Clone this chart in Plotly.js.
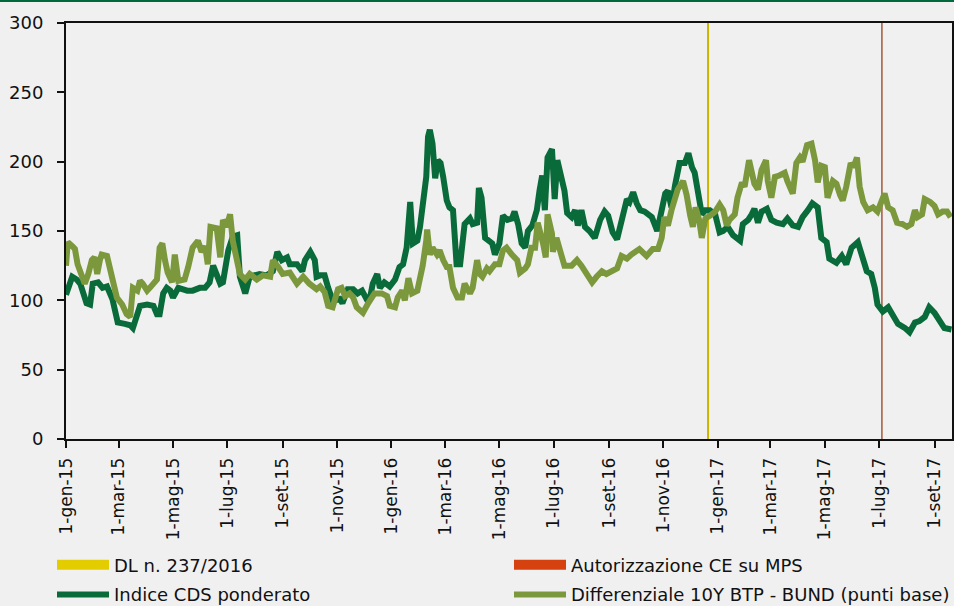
<!DOCTYPE html>
<html>
<head>
<meta charset="utf-8">
<script src="https://cdn.plot.ly/plotly-3.0.1.min.js"></script>
<style>
  html, body { margin: 0; padding: 0; background: #f0f0f0; }
  #wrap { position: relative; width: 954px; height: 606px; overflow: hidden; }
  #topline { position: absolute; left: 0; top: 0; width: 954px; height: 2px; background: #006a3c; z-index: 5; }
  #chart { position: absolute; left: 0; top: 0; width: 954px; height: 606px; }
</style>
</head>
<body>
<div id="wrap"><div id="topline"></div><div id="chart"></div></div>
<script>
// ---- data ----
const cdsDates = ['2015-01-01','2015-01-08','2015-01-13','2015-01-17','2015-01-24','2015-01-28','2015-01-31','2015-02-06','2015-02-11','2015-02-16','2015-02-22','2015-02-25','2015-02-28','2015-03-08','2015-03-14','2015-03-17','2015-03-22','2015-03-25','2015-04-02','2015-04-09','2015-04-13','2015-04-16','2015-04-20','2015-04-24','2015-04-28','2015-05-01','2015-05-07','2015-05-17','2015-05-23','2015-05-31','2015-06-06','2015-06-11','2015-06-15','2015-06-19','2015-06-23','2015-06-26','2015-07-02','2015-07-07','2015-07-12','2015-07-15','2015-07-21','2015-07-26','2015-08-06','2015-08-14','2015-08-21','2015-08-26','2015-08-31','2015-09-06','2015-09-09','2015-09-17','2015-09-23','2015-09-26','2015-10-02','2015-10-07','2015-10-09','2015-10-13','2015-10-18','2015-10-22','2015-10-27','2015-11-04','2015-11-07','2015-11-13','2015-11-19','2015-11-24','2015-11-29','2015-12-04','2015-12-08','2015-12-11','2015-12-16','2015-12-19','2015-12-24','2015-12-30','2016-01-05','2016-01-10','2016-01-14','2016-01-18','2016-01-22','2016-01-25','2016-01-30','2016-02-02','2016-02-05','2016-02-09','2016-02-11','2016-02-13','2016-02-16','2016-02-19','2016-02-22','2016-02-25','2016-02-28','2016-03-03','2016-03-06','2016-03-10','2016-03-14','2016-03-18','2016-03-23','2016-03-29','2016-04-01','2016-04-06','2016-04-08','2016-04-11','2016-04-15','2016-04-18','2016-04-23','2016-04-26','2016-05-01','2016-05-05','2016-05-10','2016-05-15','2016-05-18','2016-05-22','2016-05-26','2016-05-30','2016-06-02','2016-06-07','2016-06-12','2016-06-15','2016-06-18','2016-06-21','2016-06-24','2016-06-29','2016-07-02','2016-07-05','2016-07-10','2016-07-13','2016-07-16','2016-07-21','2016-07-25','2016-07-28','2016-08-01','2016-08-05','2016-08-10','2016-08-16','2016-08-22','2016-08-27','2016-08-31','2016-09-05','2016-09-10','2016-09-15','2016-09-21','2016-09-24','2016-09-28','2016-10-02','2016-10-06','2016-10-11','2016-10-19','2016-10-25','2016-10-28','2016-11-03','2016-11-06','2016-11-10','2016-11-14','2016-11-16','2016-11-19','2016-11-25','2016-11-29','2016-12-03','2016-12-06','2016-12-10','2016-12-14','2016-12-18','2016-12-23','2016-12-29','2017-01-03','2017-01-07','2017-01-12','2017-01-18','2017-01-26','2017-01-29','2017-02-04','2017-02-08','2017-02-11','2017-02-15','2017-02-19','2017-02-25','2017-03-02','2017-03-08','2017-03-15','2017-03-20','2017-03-26','2017-04-01','2017-04-06','2017-04-12','2017-04-17','2017-04-23','2017-04-27','2017-05-03','2017-05-06','2017-05-14','2017-05-20','2017-05-25','2017-05-31','2017-06-07','2017-06-11','2017-06-17','2017-06-22','2017-06-26','2017-06-29','2017-07-05','2017-07-11','2017-07-16','2017-07-22','2017-07-30','2017-08-04','2017-08-10','2017-08-15','2017-08-21','2017-08-26','2017-09-01','2017-09-07','2017-09-12','2017-09-20'];
const cdsValues = [104,117,115,112,98,97,112,113,109,110,101,90,84,83,82,80,89,96,97,96,90,90,105,109,107,102,109,107,107,109,109,113,125,119,112,113,136,146,147,117,105,117,119,118,121,135,129,131,126,126,121,129,135,129,117,118,118,109,100,101,98,108,108,105,107,101,102,112,119,109,113,110,115,124,126,138,171,141,143,153,172,189,218,223,213,188,201,199,189,172,167,165,126,126,155,159,155,156,181,174,145,143,141,133,141,161,158,159,164,155,141,138,150,154,165,179,190,165,203,209,173,201,189,179,163,160,165,154,165,153,150,145,158,164,161,149,144,158,173,171,178,170,165,164,160,150,158,177,179,167,183,191,199,199,206,196,192,177,162,165,165,162,149,150,153,147,143,155,158,162,166,156,164,166,158,156,155,159,154,153,160,165,170,167,145,142,130,127,132,126,138,142,132,121,119,109,97,92,95,90,83,80,77,84,85,88,95,91,84,80,79];

const spreadDates = ['2015-01-01','2015-01-03','2015-01-08','2015-01-11','2015-01-14','2015-01-19','2015-01-22','2015-01-26','2015-01-30','2015-02-02','2015-02-05','2015-02-08','2015-02-10','2015-02-16','2015-02-19','2015-02-23','2015-02-27','2015-03-05','2015-03-10','2015-03-14','2015-03-17','2015-03-22','2015-03-25','2015-03-28','2015-04-02','2015-04-05','2015-04-09','2015-04-13','2015-04-16','2015-04-19','2015-04-22','2015-04-25','2015-04-30','2015-05-03','2015-05-07','2015-05-14','2015-05-18','2015-05-23','2015-05-29','2015-06-02','2015-06-06','2015-06-09','2015-06-12','2015-06-19','2015-06-23','2015-06-26','2015-06-30','2015-07-04','2015-07-07','2015-07-12','2015-07-15','2015-07-21','2015-07-26','2015-08-03','2015-08-10','2015-08-18','2015-08-21','2015-08-27','2015-09-01','2015-09-09','2015-09-17','2015-09-24','2015-10-01','2015-10-09','2015-10-13','2015-10-18','2015-10-22','2015-10-27','2015-11-02','2015-11-06','2015-11-10','2015-11-15','2015-11-19','2015-11-23','2015-11-30','2015-12-06','2015-12-13','2015-12-21','2015-12-27','2015-12-30','2016-01-05','2016-01-08','2016-01-13','2016-01-16','2016-01-20','2016-01-24','2016-01-30','2016-02-02','2016-02-05','2016-02-09','2016-02-10','2016-02-13','2016-02-16','2016-02-21','2016-02-24','2016-02-28','2016-03-03','2016-03-06','2016-03-10','2016-03-15','2016-03-20','2016-03-23','2016-03-29','2016-04-01','2016-04-06','2016-04-09','2016-04-12','2016-04-17','2016-04-20','2016-04-26','2016-05-01','2016-05-05','2016-05-09','2016-05-15','2016-05-21','2016-05-24','2016-05-30','2016-06-02','2016-06-06','2016-06-10','2016-06-13','2016-06-19','2016-06-22','2016-06-24','2016-06-29','2016-06-30','2016-07-04','2016-07-08','2016-07-13','2016-07-21','2016-07-27','2016-08-01','2016-08-07','2016-08-13','2016-08-18','2016-08-24','2016-08-29','2016-09-04','2016-09-10','2016-09-15','2016-09-21','2016-09-26','2016-10-02','2016-10-05','2016-10-13','2016-10-20','2016-10-26','2016-10-30','2016-11-02','2016-11-06','2016-11-10','2016-11-14','2016-11-17','2016-11-23','2016-11-27','2016-12-01','2016-12-04','2016-12-07','2016-12-11','2016-12-14','2016-12-18','2016-12-23','2016-12-29','2017-01-03','2017-01-07','2017-01-11','2017-01-14','2017-01-20','2017-01-23','2017-01-28','2017-01-31','2017-02-05','2017-02-08','2017-02-11','2017-02-15','2017-02-19','2017-02-24','2017-02-26','2017-03-02','2017-03-06','2017-03-11','2017-03-17','2017-03-20','2017-03-26','2017-03-30','2017-04-03','2017-04-06','2017-04-11','2017-04-16','2017-04-20','2017-04-23','2017-04-27','2017-05-01','2017-05-04','2017-05-10','2017-05-14','2017-05-18','2017-05-21','2017-05-25','2017-05-30','2017-06-02','2017-06-06','2017-06-09','2017-06-13','2017-06-18','2017-06-24','2017-06-29','2017-07-04','2017-07-07','2017-07-11','2017-07-16','2017-07-21','2017-07-27','2017-08-01','2017-08-06','2017-08-10','2017-08-13','2017-08-18','2017-08-21','2017-08-27','2017-09-01','2017-09-05','2017-09-10','2017-09-15','2017-09-19'];
const spreadValues = [125,142,139,137,126,117,112,119,129,131,119,129,133,132,123,113,102,97,90,88,109,107,114,112,107,109,112,115,138,141,129,120,113,133,114,115,124,138,143,135,139,126,153,152,131,158,153,162,143,126,119,115,119,115,118,117,129,124,119,120,112,117,112,108,110,106,96,95,108,109,103,105,102,95,91,98,105,105,103,96,95,102,107,100,116,105,107,116,125,143,151,133,138,133,136,129,124,124,109,102,102,112,105,109,129,119,117,123,121,126,126,136,138,133,129,120,123,126,138,138,156,141,131,162,148,135,145,136,125,125,129,125,119,113,117,121,119,121,123,132,130,133,136,137,132,137,137,145,160,154,165,174,180,186,176,161,153,167,158,145,159,161,164,169,165,154,158,162,174,185,182,201,194,184,180,194,201,186,174,189,190,192,186,177,199,203,200,212,213,201,185,197,196,174,186,184,176,172,182,199,196,203,182,171,165,167,164,173,177,167,165,156,155,153,155,165,160,162,173,171,168,162,164,164,160];

const eventNames = ['DL n. 237/2016', 'Autorizzazione CE su MPS'];
const eventDates = ['2016-12-21', '2017-07-04'];
const seriesNames = ['Indice CDS ponderato', 'Differenziale 10Y BTP - BUND (punti base)'];

const tickDates = ['2015-01-01','2015-03-01','2015-05-01','2015-07-01','2015-09-01','2015-11-01','2016-01-01','2016-03-01','2016-05-01','2016-07-01','2016-09-01','2016-11-01','2017-01-01','2017-03-01','2017-05-01','2017-07-01','2017-09-01'];
const tickLabels = ['1-gen-15','1-mar-15','1-mag-15','1-lug-15','1-set-15','1-nov-15','1-gen-16','1-mar-16','1-mag-16','1-lug-16','1-set-16','1-nov-16','1-gen-17','1-mar-17','1-mag-17','1-lug-17','1-set-17'];
const yRange = [0, 300];

// ---- styles ----
const C_CDS = '#0a6b3a';
const C_SPREAD = '#7c983c';
const C_DL = '#cbb500';
const C_DL_LEG = '#e3cd00';
const C_CE = '#952f0c';
const C_CE_LEG = '#d5420f';
const FONT = 'DejaVu Sans, Verdana, sans-serif';

const traces = [
  { x: [eventDates[0], eventDates[0]], y: yRange, mode: 'lines', line: { color: C_DL, width: 2 }, showlegend: false, hoverinfo: 'skip' },
  { x: [eventDates[1], eventDates[1]], y: yRange, mode: 'lines', line: { color: C_CE, width: 1.2 }, showlegend: false, hoverinfo: 'skip' },
  { x: cdsDates, y: cdsValues, name: seriesNames[0], mode: 'lines', line: { color: C_CDS, width: 6 }, legend: 'legend3' },
  { x: spreadDates, y: spreadValues, name: seriesNames[1], mode: 'lines', line: { color: C_SPREAD, width: 6 }, legend: 'legend4' },
  { x: [null], y: [null], name: eventNames[0], mode: 'lines', line: { color: C_DL_LEG, width: 10 }, legend: 'legend' },
  { x: [null], y: [null], name: eventNames[1], mode: 'lines', line: { color: C_CE_LEG, width: 10 }, legend: 'legend2' }
];

function legendAt(x, y) {
  return {
    orientation: 'h', xanchor: 'left', yanchor: 'middle', x: x, y: y,
    itemwidth: 52, bgcolor: 'rgba(0,0,0,0)', borderwidth: 0,
    font: { family: FONT, size: 18, color: '#111' }
  };
}

const layout = {
  width: 954, height: 606,
  margin: { l: 66, r: 2, t: 23, b: 167, autoexpand: false },
  paper_bgcolor: '#f0f0f0', plot_bgcolor: '#f0f0f0',
  font: { family: FONT, size: 18, color: '#111' },
  showlegend: true,
  xaxis: {
    type: 'date', range: ['2015-01-01', '2017-09-20 14:00'],
    tickmode: 'array', tickvals: tickDates, ticktext: tickLabels,
    tickangle: -90, ticks: 'outside', ticklen: 7, tickwidth: 2, tickcolor: '#111',
    showline: true, linewidth: 2, linecolor: '#111', mirror: true,
    showgrid: false, zeroline: false, ticklabelstandoff: 3,
    tickfont: { family: FONT, size: 17, color: '#111' }
  },
  yaxis: {
    range: yRange, dtick: 50, tick0: 0, ticks: 'outside', ticklen: 7, tickwidth: 2, tickcolor: '#111',
    showline: true, linewidth: 2, linecolor: '#111', mirror: true,
    showgrid: false, zeroline: false, ticklabelstandoff: 10,
    tickfont: { family: FONT, size: 18, color: '#111' }
  },
  legend: legendAt(-0.0158, -0.3029),
  legend2: legendAt(0.5, -0.3029),
  legend3: legendAt(-0.0158, -0.3743),
  legend4: legendAt(0.5, -0.3743)
};

Plotly.newPlot('chart', traces, layout, { staticPlot: true, displayModeBar: false });
</script>
</body>
</html>
